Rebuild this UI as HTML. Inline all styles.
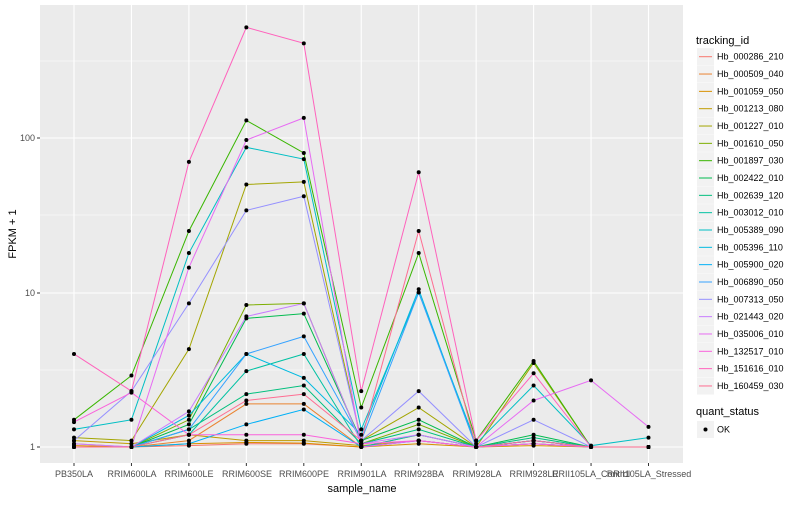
<!DOCTYPE html>
<html><head><meta charset="utf-8"><style>
body{margin:0;background:#fff;width:800px;height:500px;overflow:hidden;font-family:"Liberation Sans",sans-serif}
</style></head><body>
<svg id="s" width="800" height="500" xmlns="http://www.w3.org/2000/svg" font-family="Liberation Sans, sans-serif">
<rect x="40" y="5" width="643" height="458" fill="#EBEBEB"/>
<g id="grid"></g>
<g id="lines"></g>
<g id="pts"></g>
<g font-size="9" fill="#4D4D4D" text-anchor="end">
<text x="35" y="450">1</text><text x="35" y="296">10</text><text x="35" y="141">100</text>
</g>
<g stroke="#333" stroke-width="1"><line x1="37" x2="40" y1="447" y2="447"/><line x1="37" x2="40" y1="293" y2="293"/><line x1="37" x2="40" y1="138" y2="138"/></g>
<g id="xt" font-size="9" fill="#4D4D4D" text-anchor="middle">
<text x="74" y="477">PB350LA</text><text x="132" y="477">RRIM600LA</text><text x="189" y="477">RRIM600LE</text>
<text x="247" y="477">RRIM600SE</text><text x="304" y="477">RRIM600PE</text><text x="362" y="477">RRIM901LA</text>
<text x="419" y="477">RRIM928BA</text><text x="477" y="477">RRIM928LA</text><text x="534" y="477">RRIM928LE</text>
<text x="591" y="477">RRII105LA_Control</text><text x="649" y="477">RRII105LA_Stressed</text>
</g>
<text x="362" y="492" font-size="11" text-anchor="middle" fill="#000">sample_name</text>
<text transform="translate(16,234) rotate(-90)" font-size="11" text-anchor="middle" fill="#000">FPKM + 1</text>
<text x="696" y="44" font-size="11" fill="#000">tracking_id</text>
<g id="leg" font-size="9" fill="#000"></g>
<text x="696" y="415" font-size="11" fill="#000">quant_status</text>
<rect x="697" y="421" width="17" height="17" fill="#F2F2F2"/>
<circle cx="705.5" cy="429.5" r="2" fill="#000"/>
<text x="717" y="432.5" font-size="9" fill="#000">OK</text>
</svg>
<script>
var X=[],i;for(i=0;i<11;i++)X.push(74+57.45*i);
function Y(v){return 447-154.5*Math.log10(v);}
var C=["#F8766D","#EA8331","#D89000","#C09B00","#A3A500","#7CAE00","#39B600","#00BB4E","#00BF7D","#00C1A3","#00BFC4","#00BAE0","#00B0F6","#35A2FF","#9590FF","#C77CFF","#E76BF3","#FA62DB","#FF62BC","#FF6C91"];
var N=["Hb_000286_210","Hb_000509_040","Hb_001059_050","Hb_001213_080","Hb_001227_010","Hb_001610_050","Hb_001897_030","Hb_002422_010","Hb_002639_120","Hb_003012_010","Hb_005389_090","Hb_005396_110","Hb_005900_020","Hb_006890_050","Hb_007313_050","Hb_021443_020","Hb_035006_010","Hb_132517_010","Hb_151616_010","Hb_160459_030"];
var D=[
[1.05,1.0,1.02,1.05,1.05,1.0,1.1,1.0,1.05,1.0,1.0],
[1.0,1.0,1.1,1.9,1.9,1.0,1.2,1.0,1.1,1.0,1.0],
[1.02,1.0,1.05,1.07,1.06,1.0,1.05,1.0,1.02,1.0,1.0],
[1.1,1.05,1.2,1.1,1.1,1.02,1.1,1.0,1.05,1.0,1.0],
[1.15,1.1,4.3,50,52,1.1,1.8,1.0,3.5,1.0,1.0],
[1.0,1.0,1.5,8.3,8.5,1.05,1.4,1.0,1.1,1.0,1.0],
[1.5,2.9,25,130,80,1.8,18,1.1,3.6,1.0,1.0],
[1.0,1.0,1.4,6.8,7.3,1.1,1.5,1.0,1.2,1.0,1.0],
[1.0,1.0,1.3,2.2,2.5,1.05,1.3,1.0,1.15,1.0,1.0],
[1.0,1.0,1.2,3.1,4.0,1.0,1.2,1.0,1.1,1.0,1.0],
[1.3,1.5,18,87,73,1.3,10,1.05,2.5,1.02,1.15],
[1.0,1.0,1.6,4.0,2.8,1.2,10.5,1.0,1.1,1.0,1.0],
[1.0,1.0,1.05,1.4,1.75,1.0,1.1,1.0,1.05,1.0,1.0],
[1.0,1.0,1.3,4.0,5.2,1.1,10,1.0,1.1,1.0,1.0],
[1.1,2.3,8.5,34,42,1.1,2.3,1.0,1.5,1.0,1.0],
[1.05,1.0,1.7,7.0,8.5,1.05,1.2,1.0,1.05,1.0,1.0],
[1.0,1.0,14.5,97,135,1.0,1.1,1.0,2.0,2.7,1.35],
[1.45,2.25,1.2,1.2,1.2,1.05,1.1,1.0,1.05,1.0,1.0],
[4.0,2.3,70,520,410,2.3,60,1.1,3.0,1.0,1.0],
[1.0,1.0,1.2,2.0,2.2,1.1,25,1.0,1.1,1.0,1.0]];
var ns="http://www.w3.org/2000/svg";
function el(p,t,a){var e=document.createElementNS(ns,t);for(var k in a)e.setAttribute(k,a[k]);p.appendChild(e);return e;}
var g=document.getElementById("grid");
[370,215,61].forEach(function(y){el(g,"line",{x1:40,x2:683,y1:y,y2:y,stroke:"#fff","stroke-width":0.5});});
[447,293,138].forEach(function(y){el(g,"line",{x1:40,x2:683,y1:y,y2:y,stroke:"#fff","stroke-width":1.1});});
X.forEach(function(x){el(g,"line",{x1:x,x2:x,y1:5,y2:463,stroke:"#fff","stroke-width":1.1});});
var xt=document.getElementById("xt");
X.forEach(function(x){el(xt.parentNode,"line",{x1:x,x2:x,y1:463,y2:466,stroke:"#333"});});
var L=document.getElementById("lines"),P=document.getElementById("pts"),G=document.getElementById("leg");
D.forEach(function(r,j){
 el(L,"polyline",{points:r.map(function(v,k){return X[k]+","+Y(v);}).join(" "),fill:"none",stroke:C[j],"stroke-width":1});
 r.forEach(function(v,k){el(P,"circle",{cx:X[k],cy:Y(v),r:2,fill:"#000"});});
 var cy=56.7+17.33*j;
 el(G,"rect",{x:697,y:cy-8.5,width:17,height:17,fill:"#F2F2F2"});
 el(G,"line",{x1:699,x2:712,y1:cy,y2:cy,stroke:C[j],"stroke-width":1});
 var t=el(G,"text",{x:717,y:cy+3});t.textContent=N[j];
});
</script>
</body></html>
